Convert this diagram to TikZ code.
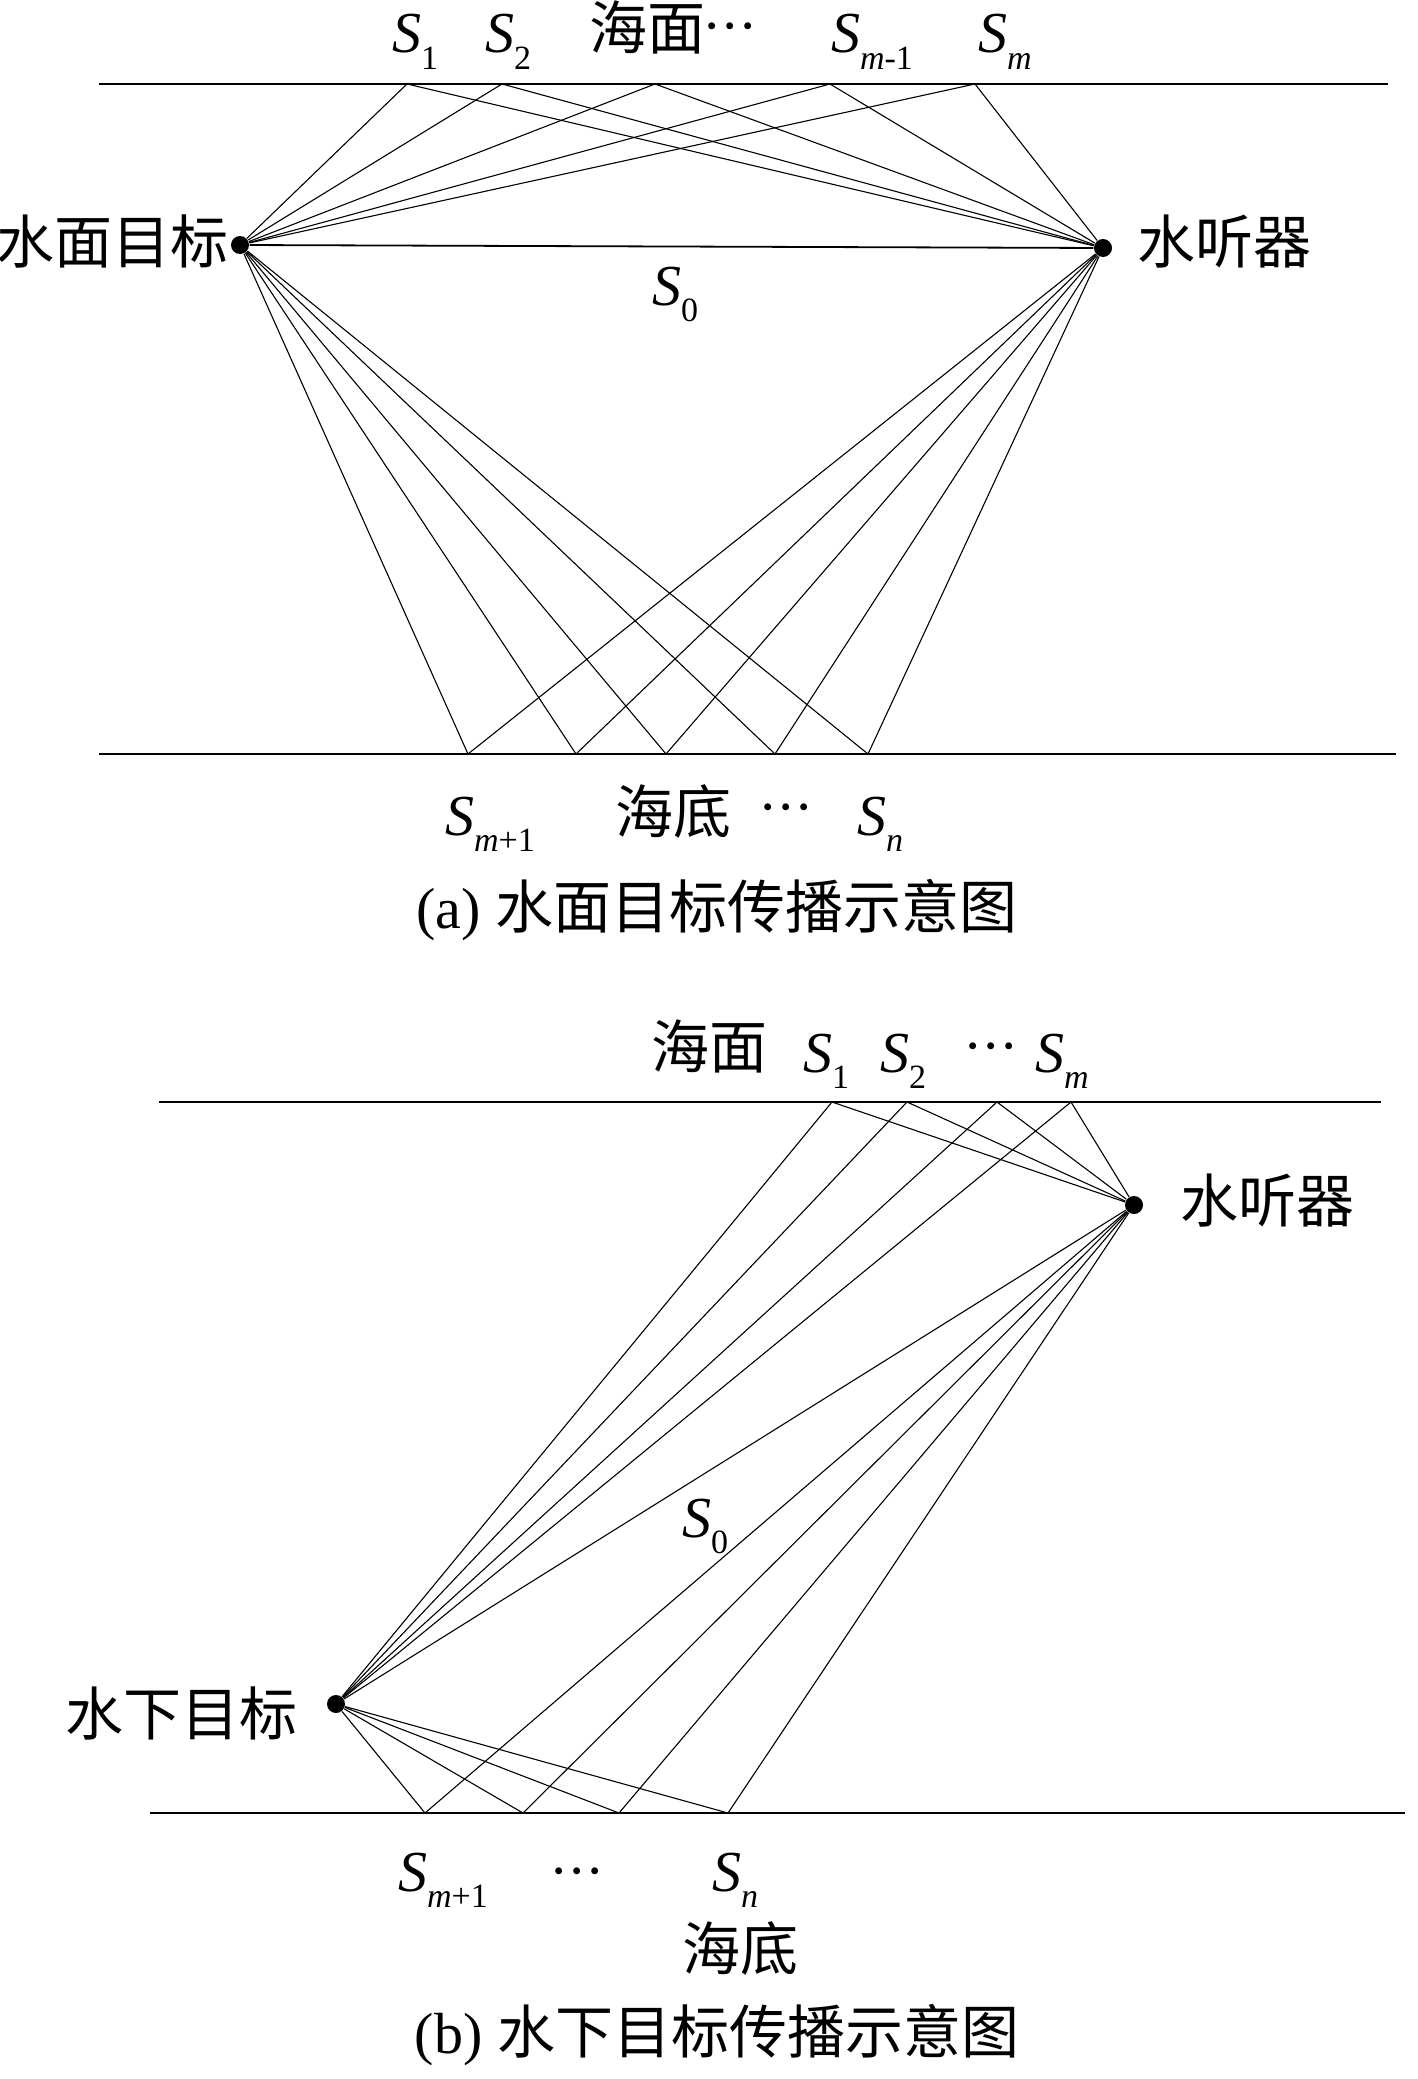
\documentclass[tikz,border=0pt]{standalone}
\usepackage{fontspec}
\setmainfont{Liberation Serif}
\newfontfamily\cjk{Noto Sans CJK SC}
\newcommand\Sx[1]{\textit{S}\raisebox{-0.28em}{\fontsize{34}{34}\selectfont #1}}
\newcommand\dotsc{\raisebox{0.08em}{·\kern-1pt·\kern-1pt·}}

\begin{document}
\begin{tikzpicture}[x=1pt, y=-1pt, line width=1.1pt,
                    lbl/.style={font=\fontsize{58}{58}\selectfont, inner sep=0pt, anchor=base},
                    sea/.style={line width=2.2pt},
                    dot/.style={circle, fill, inner sep=0pt, minimum size=18pt}]

% full original canvas
\useasboundingbox (0,0) rectangle (1417,2079);

% ---- (a) surface target ----
\draw[sea] (99,84) -- (1388,84);      % sea surface
\draw[sea] (99,754) -- (1396,754);    % sea floor
\node[dot] (srcA) at (240,245) {};
\node[dot] (hydA) at (1103,248) {};
\foreach \x [count=\i] in {407,502,655,830,975}
  \coordinate (ta\i) at (\x,84);
\foreach \x [count=\i] in {468,576,666,775,868}
  \coordinate (ba\i) at (\x,754);
\foreach \i in {1,...,5}
  \draw (srcA) -- (ta\i) -- (hydA)  (srcA) -- (ba\i) -- (hydA);
\draw[line width=1.8pt] (srcA) -- (hydA);   % direct path

\node[lbl] at (415,53) {\Sx{1}};
\node[lbl] at (508,53) {\Sx{2}};
\node[lbl] at (647,50) {\cjk 海面};
\node[lbl] at (730,50) {\dotsc};
\node[lbl] at (872,53) {\Sx{\textit{m}-1}};
\node[lbl] at (1005,53) {\Sx{\textit{m}}};
\node[lbl, anchor=base east] at (229,263) {\cjk 水面目标};
\node[lbl, anchor=base west] at (1137,263) {\cjk 水听器};
\node[lbl] at (675,305) {\Sx{0}};
\node[lbl] at (490,835) {\Sx{\textit{m}+1}};
\node[lbl] at (673,833) {\cjk 海底};
\node[lbl] at (786,831) {\dotsc};
\node[lbl] at (880,835) {\Sx{\textit{n}}};
\node[lbl] at (717,928) {(a) {\cjk 水面目标传播示意图}};

% ---- (b) underwater target ----
\draw[sea] (159,1102) -- (1381,1102); % sea surface
\draw[sea] (150,1813) -- (1405,1813); % sea floor
\node[dot] (hydB) at (1134,1205) {};
\node[dot] (srcB) at (336,1704) {};
\foreach \x [count=\i] in {832,907,997,1071}
  \coordinate (tb\i) at (\x,1102);
\foreach \x [count=\i] in {425,523,619,728}
  \coordinate (bb\i) at (\x,1813);
\foreach \i in {1,...,4}
  \draw (srcB) -- (tb\i) -- (hydB)  (srcB) -- (bb\i) -- (hydB);
\draw (srcB) -- (hydB);               % direct path

\node[lbl] at (709,1068) {\cjk 海面};
\node[lbl] at (826,1072) {\Sx{1}};
\node[lbl] at (903,1072) {\Sx{2}};
\node[lbl] at (991,1070) {\dotsc};
\node[lbl] at (1062,1072) {\Sx{\textit{m}}};
\node[lbl, anchor=base west] at (1180,1222) {\cjk 水听器};
\node[lbl] at (705,1537) {\Sx{0}};
\node[lbl, anchor=base east] at (298,1735) {\cjk 水下目标};
\node[lbl] at (443,1891) {\Sx{\textit{m}+1}};
\node[lbl] at (577,1895) {\dotsc};
\node[lbl] at (735,1891) {\Sx{\textit{n}}};
\node[lbl] at (740,1970) {\cjk 海底};
\node[lbl] at (717,2053) {(b) {\cjk 水下目标传播示意图}};

\end{tikzpicture}
\end{document}
